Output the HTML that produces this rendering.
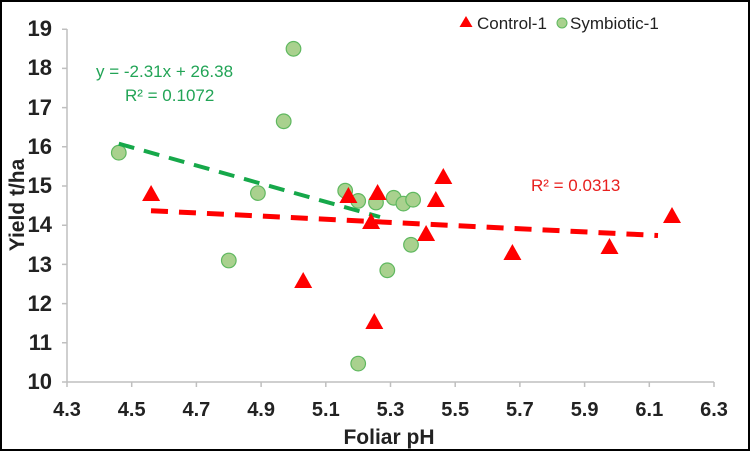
<!DOCTYPE html>
<html><head><style>
html,body{margin:0;padding:0;background:#fff}
svg{display:block}
text{font-family:"Liberation Sans",Arial,sans-serif}
.n{font-family:"Liberation Sans Narrow","Liberation Sans",Arial,sans-serif}
</style></head><body>
<svg width="751" height="452" viewBox="0 0 751 452" xmlns="http://www.w3.org/2000/svg">
<rect x="1" y="1" width="748" height="449" fill="#fff" stroke="#000" stroke-width="2"/>
<g stroke="#bfbfbf" stroke-width="1.5" fill="none">
<line x1="67" y1="29" x2="67" y2="382"/>
<line x1="67" y1="382" x2="714" y2="382"/>
<path d="M62 29.2H67M62 68.4H67M62 107.6H67M62 146.8H67M62 186H67M62 225.2H67M62 264.4H67M62 303.6H67M62 342.8H67M62 382H67"/>
<path d="M67 382V387M131.7 382V387M196.4 382V387M261.1 382V387M325.8 382V387M390.5 382V387M455.2 382V387M519.9 382V387M584.6 382V387M649.3 382V387M714 382V387"/>
</g>
<g class="n" font-size="22" font-weight="bold" fill="#222" text-anchor="end">
<text x="52" y="36">19</text><text x="52" y="75">18</text><text x="52" y="115">17</text><text x="52" y="154">16</text><text x="52" y="193">15</text><text x="52" y="232">14</text><text x="52" y="272">13</text><text x="52" y="311">12</text><text x="52" y="350">11</text><text x="52" y="389">10</text>
</g>
<g class="n" font-size="20" font-weight="bold" fill="#222" text-anchor="middle">
<text x="67" y="416">4.3</text><text x="131.7" y="416">4.5</text><text x="196.4" y="416">4.7</text><text x="261.1" y="416">4.9</text><text x="325.8" y="416">5.1</text><text x="390.5" y="416">5.3</text><text x="455.2" y="416">5.5</text><text x="519.9" y="416">5.7</text><text x="584.6" y="416">5.9</text><text x="649.3" y="416">6.1</text><text x="714" y="416">6.3</text>
</g>
<text class="n" x="389" y="444" font-size="21" font-weight="bold" fill="#222" text-anchor="middle">Foliar  pH</text>
<text class="n" transform="translate(24,205) rotate(-90)" font-size="21" font-weight="bold" fill="#222" text-anchor="middle">Yield  t/ha</text>
<g fill="#a9d18e" stroke="#5fb85f" stroke-width="1.2">
<circle cx="118.8" cy="152.7" r="7.3"/><circle cx="228.8" cy="260.5" r="7.3"/><circle cx="257.9" cy="193.1" r="7.3"/><circle cx="283.7" cy="121.3" r="7.3"/><circle cx="293.5" cy="48.8" r="7.3"/><circle cx="345.2" cy="190.7" r="7.3"/><circle cx="358.2" cy="200.9" r="7.3"/><circle cx="358.2" cy="363.6" r="7.3"/><circle cx="376" cy="202.5" r="7.3"/><circle cx="387.3" cy="270.3" r="7.3"/><circle cx="393.7" cy="197.8" r="7.3"/><circle cx="403.4" cy="203.6" r="7.3"/><circle cx="413.1" cy="199.7" r="7.3"/><circle cx="411" cy="244.8" r="7.3"/>
</g>
<line x1="118.8" y1="143.7" x2="380" y2="217" stroke="#16a84a" stroke-width="4" stroke-dasharray="16,10"/>
<line x1="151" y1="210.7" x2="658" y2="235.5" stroke="#f00" stroke-width="5" stroke-dasharray="17,11"/>
<g fill="#f00">
<path d="M151.1 185l9 16h-18z"/><path d="M303.2 272l9 16h-18z"/><path d="M348.4 187l9 16h-18z"/><path d="M371.1 213l9 16h-18z"/><path d="M374.3 313l9 16h-18z"/><path d="M377.6 184l9 16h-18z"/><path d="M426.1 225l9 16h-18z"/><path d="M435.8 191l9 16h-18z"/><path d="M443.3 168l9 16h-18z"/><path d="M512.4 244l9 16h-18z"/><path d="M609.5 238l9 16h-18z"/><path d="M672 207l9 16h-18z"/>
</g>
<text x="96" y="77" font-size="17" fill="#22a456">y = -2.31x + 26.38</text>
<text x="125" y="101" font-size="17" fill="#22a456">R² = 0.1072</text>
<text x="531" y="191" font-size="17" fill="#e8201e">R² = 0.0313</text>
<path d="M466 16l6.5 11h-13z" fill="#f00"/>
<text x="477" y="29" font-size="17" fill="#222">Control-1</text>
<circle cx="562" cy="23" r="5" fill="#a9d18e" stroke="#5fb85f"/>
<text x="570" y="29" font-size="17" fill="#222">Symbiotic-1</text>
</svg>
</body></html>
